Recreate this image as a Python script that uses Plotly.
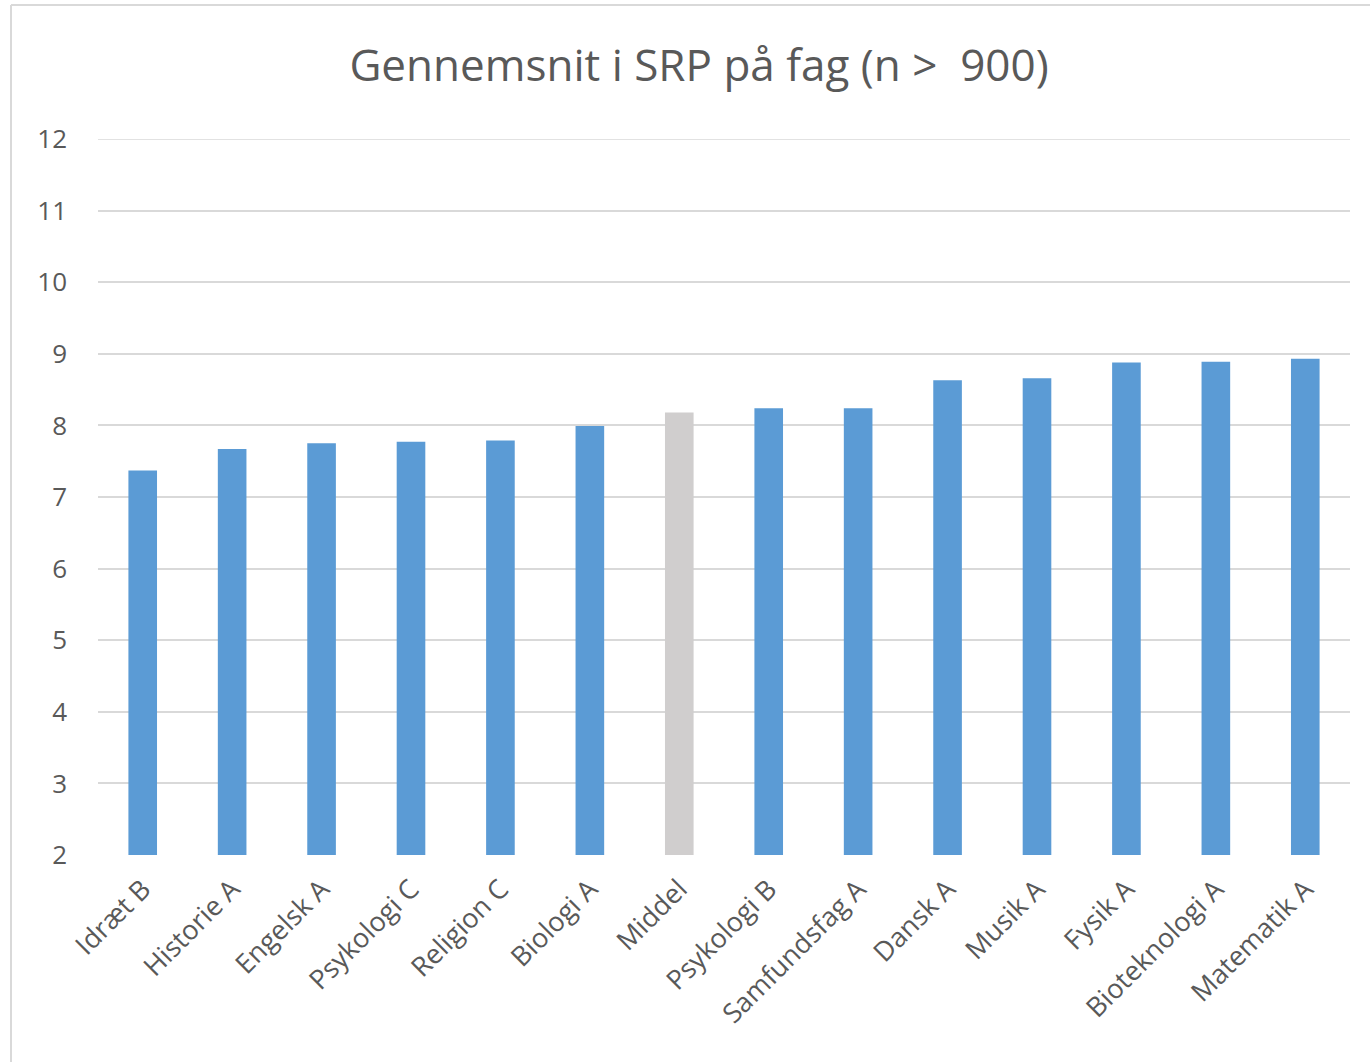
import plotly.graph_objects as go

categories = ["Idræt B", "Historie A", "Engelsk A", "Psykologi C", "Religion C",
              "Biologi A", "Middel", "Psykologi B", "Samfundsfag A", "Dansk A",
              "Musik A", "Fysik A", "Bioteknologi A", "Matematik A"]
values = [7.37, 7.67, 7.75, 7.77, 7.79, 7.99, 8.18, 8.24, 8.24, 8.63, 8.66, 8.88, 8.89, 8.93]
highlight = "Middel"
y_ticks = list(range(2, 13))

blue = "#5B9BD5"
grey = "#D0CECE"
colors = [grey if c == highlight else blue for c in categories]

W, H = 1370, 1062
L, R, T, B = 98, 20, 139, 207

fig = go.Figure(go.Bar(x=categories, y=values, marker=dict(color=colors, line=dict(width=0)),
                       hoverinfo="x+y"))

pw = W - L - R
ph = H - T - B
def px_x(p):
    return (p - L) / pw
def px_y(p):
    return (H - B - p) / ph

fig.update_layout(
    width=W, height=H,
    margin=dict(l=L, r=R, t=T, b=B),
    paper_bgcolor="white", plot_bgcolor="white",
    bargap=0.68,
    showlegend=False,
    title=dict(text="Gennemsnit i SRP på fag (n &gt;\u00a0 900)", x=699 / W, xanchor="center",
               y=1 - 66 / H, yanchor="middle",
               font=dict(family="Open Sans", size=44, color="#595959")),
    font=dict(family="Open Sans", color="#595959"),
    xaxis=dict(tickangle=-45, tickfont=dict(size=27, color="#595959"), showgrid=False,
               showline=False, ticks="", ticklabelstandoff=12),
    yaxis=dict(range=[2, 12], tickvals=y_ticks, tickfont=dict(size=26, color="#595959"),
               showgrid=True, gridcolor="#D9D9D9", gridwidth=1.5, zeroline=False,
               showline=False, ticks="", ticklabelstandoff=30),
    shapes=[
        dict(type="line", xref="paper", yref="y", x0=0, x1=1, y0=y_ticks[-1], y1=y_ticks[-1],
             layer="below", line=dict(color="#D9D9D9", width=1.5)),
        dict(type="line", xref="paper", yref="paper", x0=px_x(11), x1=px_x(W), y0=px_y(5), y1=px_y(5),
             line=dict(color="#D9D9D9", width=2)),
        dict(type="line", xref="paper", yref="paper", x0=px_x(11), x1=px_x(11), y0=px_y(5), y1=px_y(H),
             line=dict(color="#D9D9D9", width=2)),
    ],
)

fig.write_html("out.html", config={"displayModeBar": False},
               post_script="document.body.style.margin='0';document.body.style.overflow='hidden';")
